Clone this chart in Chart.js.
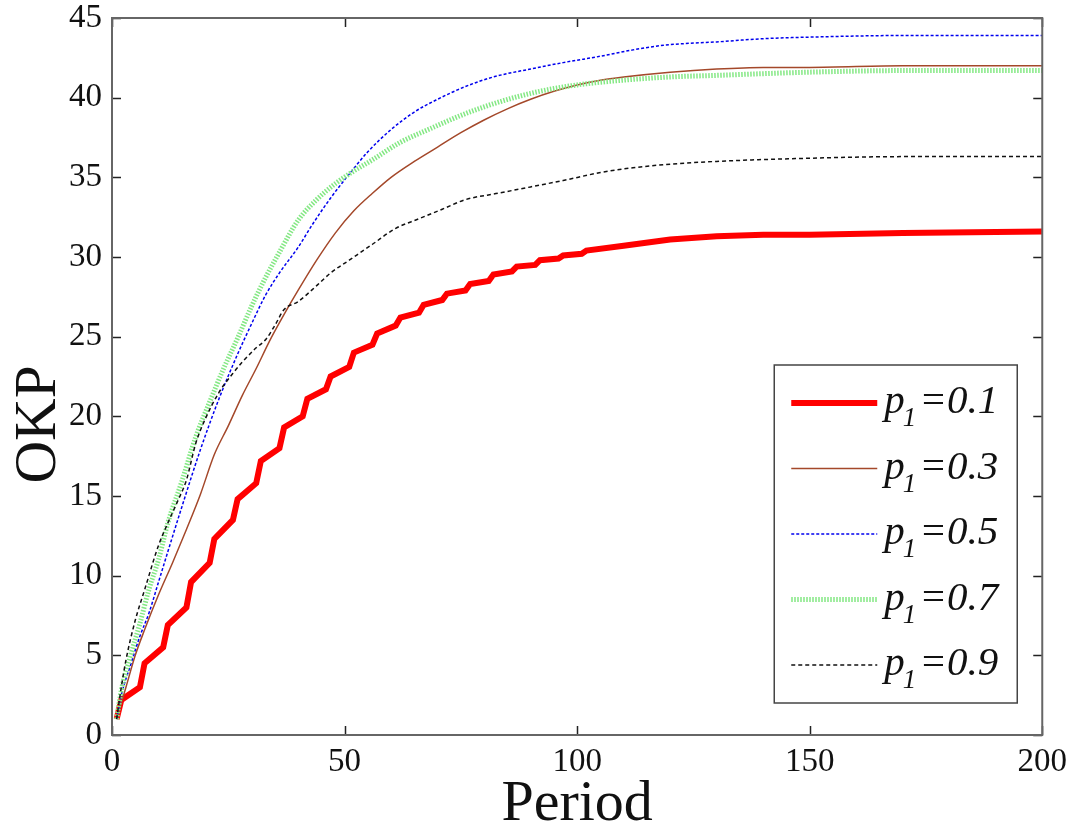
<!DOCTYPE html>
<html>
<head>
<meta charset="utf-8">
<script src="https://cdn.jsdelivr.net/npm/chart.js@4/dist/chart.umd.min.js"></script>
<style>
  html, body { margin: 0; padding: 0; background: #fff; }
  #wrap { width: 1078px; height: 828px; position: relative; }
</style>
</head>
<body>
<div id="wrap"><canvas id="okpChart"></canvas></div>
<script>
// ----------------------------------------------------------------------------
// DATA
// ----------------------------------------------------------------------------

const pValues = ['0.1', '0.3', '0.5', '0.7', '0.9'];

// p1 = 0.1 (stepped curve)
const redX = [1, 2, 6, 7, 11, 12, 16, 17, 21, 22, 26, 27, 31, 32, 36, 37, 41, 42, 46, 47,
  51, 52, 56, 57, 61, 62, 66, 67, 71, 72, 76, 77, 81, 82, 86, 87, 91, 92, 96, 97,
  101, 102, 110, 120, 130, 140, 150, 170, 200];
const redY = [1.0, 2.2, 3.0, 4.5, 5.5, 6.9, 8.0, 9.6, 10.8, 12.3, 13.5, 14.8, 15.8, 17.2, 18.0, 19.3, 20.0, 21.1, 21.7, 22.5,
  23.1, 24.0, 24.5, 25.2, 25.7, 26.2, 26.5, 27.0, 27.3, 27.7, 27.9, 28.3, 28.5, 28.9, 29.1, 29.4, 29.5, 29.8, 29.9, 30.1,
  30.2, 30.4, 30.7, 31.1, 31.3, 31.4, 31.4, 31.5, 31.6];

// p1 = 0.3
const brownX = [1, 3, 5, 7, 10, 13, 16, 19, 22, 25, 28, 31, 34, 37, 40, 44, 48, 52, 56, 60,
  65, 70, 75, 80, 85, 90, 95, 100, 105, 110, 120, 130, 140, 150, 170, 200];
const brownY = [1.0, 3.0, 5.0, 6.6, 8.8, 10.8, 12.9, 15.1, 17.6, 19.4, 21.3, 23.0, 24.8, 26.4, 27.9, 29.8, 31.5, 32.9, 34.0, 35.0,
  36.0, 36.9, 37.8, 38.6, 39.3, 39.9, 40.4, 40.8, 41.1, 41.3, 41.6, 41.8, 41.9, 41.9, 42.0, 42.0];

// p1 = 0.5
const blueX = [1, 2, 4, 6, 8, 10, 12, 15, 19, 23, 27, 30, 33, 36, 40, 43, 47, 51, 55, 60,
  65, 70, 76, 82, 90, 97, 105, 112, 119, 130, 140, 150, 170, 200];
const blueY = [1.0, 2.5, 4.4, 6.2, 7.7, 9.6, 11.5, 14.3, 17.9, 21.1, 23.9, 25.8, 27.6, 29.0, 30.6, 32.0, 33.7, 35.2, 36.6, 38.0,
  39.1, 39.9, 40.7, 41.3, 41.8, 42.2, 42.6, 43.0, 43.3, 43.5, 43.7, 43.8, 43.9, 43.9];

// p1 = 0.7
const greenX = [1, 2, 4, 6, 8, 10, 12, 15, 18, 21, 24, 27, 30, 33, 36, 40, 44, 48, 52, 56,
  62, 68, 76, 84, 92, 100, 110, 120, 130, 150, 170, 200];
const greenY = [1.0, 2.8, 5.0, 7.0, 9.2, 11.0, 13.3, 15.9, 18.7, 20.9, 23.0, 24.9, 26.9, 28.7, 30.3, 32.3, 33.6, 34.6, 35.4, 36.1,
  37.2, 38.0, 39.0, 39.8, 40.4, 40.8, 41.1, 41.3, 41.4, 41.6, 41.7, 41.7];

// p1 = 0.9
const blackX = [1, 2, 3, 5, 7, 10, 12, 14, 16, 18, 20, 23, 26, 28, 31, 33, 35, 37, 40, 44,
  47, 51, 56, 61, 66, 71, 76, 83, 90, 97, 105, 112, 119, 130, 150, 170, 200];
const blackY = [1.0, 3.0, 4.7, 7.2, 9.1, 11.9, 13.3, 14.6, 16.0, 18.3, 19.8, 21.5, 22.7, 23.4, 24.3, 24.8, 25.7, 26.7, 27.2, 28.2,
  29.0, 29.8, 30.8, 31.8, 32.4, 33.0, 33.6, 34.0, 34.4, 34.8, 35.3, 35.6, 35.8, 36.0, 36.2, 36.3, 36.3];

const xTicks = [0, 50, 100, 150, 200];
const yTicks = [0, 5, 10, 15, 20, 25, 30, 35, 40, 45];

// ----------------------------------------------------------------------------
// HELPERS
// ----------------------------------------------------------------------------

const SERIF = '"Liberation Serif", "Times New Roman", Times, serif';

function toPoints(xs, ys) {
    return xs.map((x, i) => ({ x: x, y: ys[i] }));
}

// MATLAB-like box with inward ticks on all four sides
const boxAxesPlugin = {
    id: 'boxAxes',
    afterDatasetsDraw(chart) {
        const { ctx, chartArea: a, scales } = chart;
        const len = 9;
        ctx.save();
        ctx.strokeStyle = '#222';
        ctx.lineWidth = 1.5;
        ctx.beginPath();
        scales.x.ticks.forEach(t => {
            const px = Math.round(scales.x.getPixelForValue(t.value)) + 0.5;
            ctx.moveTo(px, a.bottom); ctx.lineTo(px, a.bottom - len);
            ctx.moveTo(px, a.top); ctx.lineTo(px, a.top + len);
        });
        scales.y.ticks.forEach(t => {
            const py = Math.round(scales.y.getPixelForValue(t.value)) + 0.5;
            ctx.moveTo(a.left, py); ctx.lineTo(a.left + len, py);
            ctx.moveTo(a.right, py); ctx.lineTo(a.right - len, py);
        });
        ctx.stroke();
        ctx.strokeStyle = '#666';
        ctx.lineWidth = 2;
        ctx.strokeRect(a.left, a.top, a.right - a.left, a.bottom - a.top);
        ctx.restore();
    }
};

// Y axis title, placed a little below the axis middle as in the figure
const yTitlePlugin = {
    id: 'yTitle',
    afterDraw(chart) {
        const { ctx, chartArea: a } = chart;
        ctx.save();
        ctx.translate(a.left - 57, (a.top + a.bottom) / 2 + 48);
        ctx.rotate(-Math.PI / 2);
        ctx.font = '59px ' + SERIF;
        ctx.fillStyle = '#111';
        ctx.textAlign = 'center';
        ctx.textBaseline = 'alphabetic';
        ctx.fillText('OKP', 0, 0);
        ctx.restore();
    }
};

// Boxed legend with italic "p" and subscript "1"
const boxLegendPlugin = {
    id: 'boxLegend',
    afterDraw(chart) {
        const { ctx, chartArea: a } = chart;
        const sets = chart.data.datasets;
        const boxW = 243, rowH = 65.5;
        const boxH = 338;
        const right = a.right - 25, bottom = a.bottom - 32;
        const left = right - boxW, top = bottom - boxH;

        ctx.save();
        ctx.fillStyle = '#fff';
        ctx.fillRect(left, top, boxW, boxH);
        ctx.strokeStyle = '#444';
        ctx.lineWidth = 1.5;
        ctx.strokeRect(left, top, boxW, boxH);

        sets.forEach((ds, i) => {
            const y = top + 38 + i * rowH;
            ctx.save();
            ctx.strokeStyle = ds.borderColor;
            ctx.lineWidth = ds.borderWidth;
            ctx.setLineDash(ds.borderDash || []);
            ctx.beginPath();
            ctx.moveTo(left + 17, y);
            ctx.lineTo(left + 103, y);
            ctx.stroke();
            ctx.restore();

            ctx.fillStyle = '#111';
            ctx.textBaseline = 'alphabetic';
            ctx.textAlign = 'left';
            let x = left + 110;
            ctx.font = 'italic 41px ' + SERIF;
            ctx.fillText('p', x, y + 10);
            x += ctx.measureText('p').width - 2;
            ctx.font = 'italic 27px ' + SERIF;
            ctx.fillText('1', x, y + 23);
            x += ctx.measureText('1').width + 3;
            ctx.font = 'italic 41px ' + SERIF;
            ctx.fillText('=' + pValues[i], x, y + 10);
        });
        ctx.restore();
    }
};

// ----------------------------------------------------------------------------
// CHART
// ----------------------------------------------------------------------------

const seriesStyles = [
    { color: '#ff0000', width: 6,   dash: [],     tension: 0 },
    { color: '#a4482a', width: 1.5, dash: [],     tension: 0.3 },
    { color: '#0000ee', width: 1.5, dash: [3, 2], tension: 0.3 },
    { color: '#84e884', width: 5,   dash: [1.5, 1.5], tension: 0.3 },
    { color: '#111111', width: 1.5, dash: [4, 3], tension: 0.3 }
];
const seriesData = [
    toPoints(redX, redY),
    toPoints(brownX, brownY),
    toPoints(blueX, blueY),
    toPoints(greenX, greenY),
    toPoints(blackX, blackY)
];

const datasets = seriesData.map((pts, i) => ({
    label: 'p1=' + pValues[i],
    data: pts,
    borderColor: seriesStyles[i].color,
    borderWidth: seriesStyles[i].width,
    borderDash: seriesStyles[i].dash,
    tension: seriesStyles[i].tension,
    cubicInterpolationMode: i === 0 ? 'default' : 'monotone',
    pointRadius: 0,
    fill: false,
    order: pValues.length - i
}));

const okpCtx = document.getElementById('okpChart').getContext('2d');
const okpChart = new Chart(okpCtx, {
    type: 'line',
    data: { datasets: datasets },
    options: {
        responsive: true,
        maintainAspectRatio: false,
        animation: false,
        layout: { padding: { left: 0, right: 35, top: 18, bottom: 0 } },
        plugins: {
            legend: { display: false },
            tooltip: { enabled: false }
        },
        scales: {
            x: {
                type: 'linear',
                min: 0,
                max: 200,
                afterFit: scale => { scale.height = 93; },
                afterBuildTicks: scale => { scale.ticks = xTicks.map(v => ({ value: v })); },
                ticks: {
                    padding: 11,
                    color: '#111',
                    font: { family: SERIF, size: 33, lineHeight: 1 }
                },
                grid: { display: false, drawTicks: false },
                border: { display: false },
                title: {
                    display: true,
                    text: 'Period',
                    color: '#111',
                    font: { family: SERIF, size: 58, lineHeight: 1 },
                    padding: { top: 0, bottom: -6 }
                }
            },
            y: {
                min: 0,
                max: 45,
                afterFit: scale => { scale.width = 112; },
                afterBuildTicks: scale => { scale.ticks = yTicks.map(v => ({ value: v })); },
                ticks: {
                    padding: 10,
                    color: '#111',
                    // small lineHeight keeps the label half-height out of the top padding
                    font: { family: SERIF, size: 33, lineHeight: 0.45 }
                },
                grid: { display: false, drawTicks: false },
                border: { display: false }
            }
        }
    },
    plugins: [boxAxesPlugin, yTitlePlugin, boxLegendPlugin]
});
</script>
</body>
</html>
